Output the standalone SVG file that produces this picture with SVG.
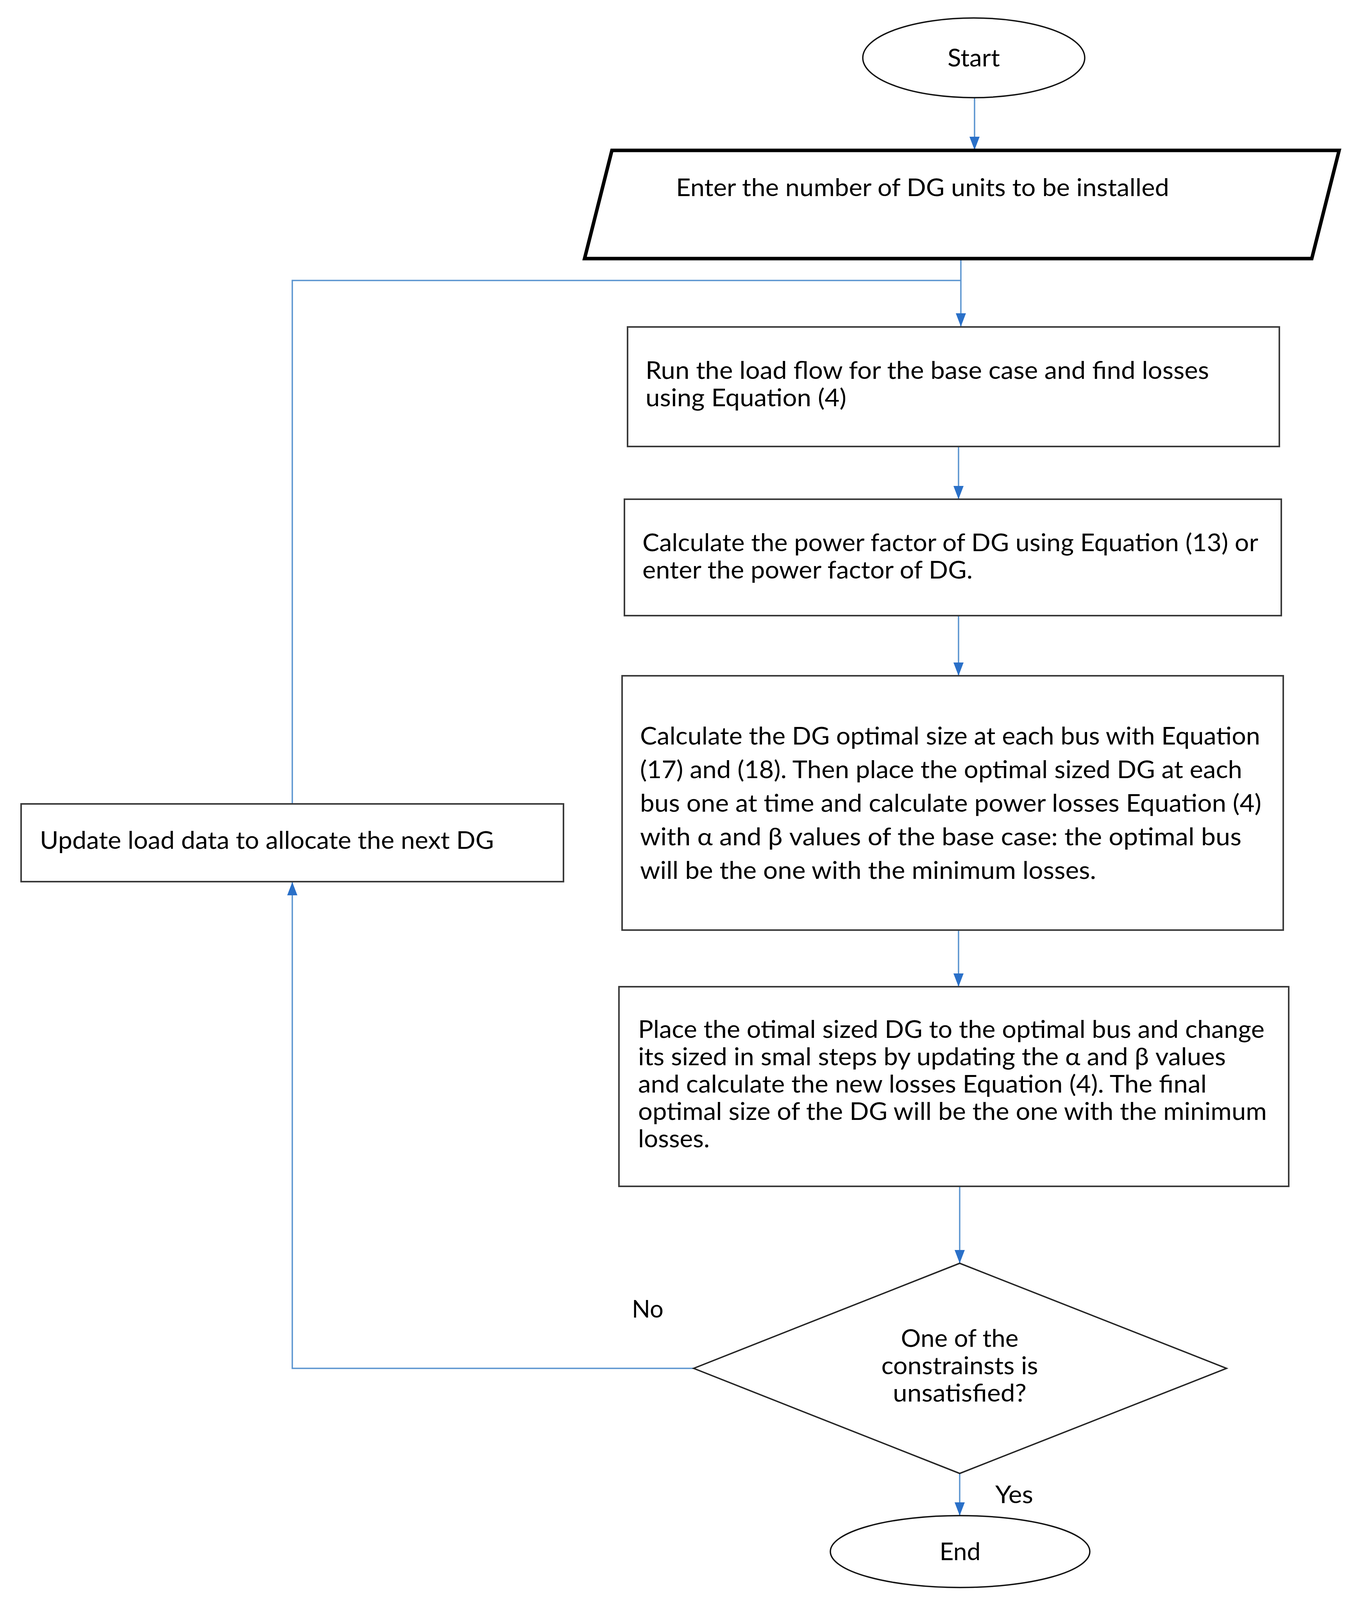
<svg xmlns="http://www.w3.org/2000/svg" width="3483" height="4233" viewBox="0 0 3483 4233">
<style>
.t{font-family:Lato,"Open Sans","Liberation Sans",sans-serif;font-size:62px;fill:#000}
.m{text-anchor:middle}
.box{fill:#fff;stroke:#3a3a3a;stroke-width:4}
.term{fill:#fff;stroke:#111;stroke-width:3.5}
.io{fill:#fff;stroke:#000;stroke-width:9;stroke-linejoin:miter}
.dia{fill:#fff;stroke:#222;stroke-width:3.5}
.c{fill:none;stroke:#5b95d0;stroke-width:3.5}
</style>
<defs>
<marker id="ah" viewBox="0 0 34 26" refX="34" refY="13" markerWidth="34" markerHeight="26" markerUnits="userSpaceOnUse" orient="auto">
<path d="M0,0 L34,13 L0,26 z" fill="#2a70c8"/>
</marker>
</defs>
<rect width="3483" height="4233" fill="#fff"/>
<g id="connectors">
<path class="c" d="M2494,250 L2494,384" marker-end="url(#ah)"/>
<path class="c" d="M2459,662 L2459,836" marker-end="url(#ah)"/>
<path class="c" d="M748,2058 L748,718 L2459,718"/>
<path class="c" d="M2453,1143 L2453,1278" marker-end="url(#ah)"/>
<path class="c" d="M2453,1576 L2453,1730" marker-end="url(#ah)"/>
<path class="c" d="M2453,2381 L2453,2526" marker-end="url(#ah)"/>
<path class="c" d="M2456,3037 L2456,3234" marker-end="url(#ah)"/>
<path class="c" d="M1775,3503 L748,3503 L748,2258" marker-end="url(#ah)"/>
<path class="c" d="M2456,3772 L2456,3880" marker-end="url(#ah)"/>
</g>
<g id="start">
<ellipse class="term" cx="2492" cy="148" rx="284" ry="102"/>
<text class="t m" x="2492" y="170" textLength="134" lengthAdjust="spacingAndGlyphs">Start</text>
</g>
<g id="input">
<polygon class="io" points="1566,385 3427,385 3357,662 1496,662"/>
<text class="t" x="1730" y="502" textLength="1262" lengthAdjust="spacingAndGlyphs">Enter the number of DG units to be installed</text>
</g>
<g id="loadflow">
<rect class="box" x="1606" y="837" width="1668" height="306"/>
<text class="t" x="1652" y="970" textLength="1442" lengthAdjust="spacingAndGlyphs">Run the load flow for the base case and find losses</text>
<text class="t" x="1652" y="1040" textLength="514" lengthAdjust="spacingAndGlyphs">using Equation (4)</text>
</g>
<g id="powerfactor">
<rect class="box" x="1598" y="1278" width="1681" height="298"/>
<text class="t" x="1644" y="1411" textLength="1576" lengthAdjust="spacingAndGlyphs">Calculate the power factor of DG using Equation (13) or</text>
<text class="t" x="1644" y="1481" textLength="845" lengthAdjust="spacingAndGlyphs">enter the power factor of DG.</text>
</g>
<g id="optsize">
<rect class="box" x="1592" y="1730" width="1692" height="651"/>
<text class="t" x="1638" y="1906" textLength="1587" lengthAdjust="spacingAndGlyphs">Calculate the DG optimal size at each bus with Equation</text>
<text class="t" x="1638" y="1992" textLength="1541" lengthAdjust="spacingAndGlyphs">(17) and (18). Then place the optimal sized DG at each</text>
<text class="t" x="1638" y="2078" textLength="1590" lengthAdjust="spacingAndGlyphs">bus one at time and calculate power losses Equation (4)</text>
<text class="t" x="1638" y="2164" textLength="1539" lengthAdjust="spacingAndGlyphs">with α and β values of the base case: the optimal bus</text>
<text class="t" x="1638" y="2250" textLength="1167" lengthAdjust="spacingAndGlyphs">will be the one with the minimum losses.</text>
</g>
<g id="placedg">
<rect class="box" x="1584" y="2526" width="1714" height="511"/>
<text class="t" x="1633" y="2657" textLength="1603" lengthAdjust="spacingAndGlyphs">Place the otimal sized DG to the optimal bus and change</text>
<text class="t" x="1633" y="2727" textLength="1504" lengthAdjust="spacingAndGlyphs">its sized in smal steps by updating the α and β values</text>
<text class="t" x="1633" y="2797" textLength="1455" lengthAdjust="spacingAndGlyphs">and calculate the new losses Equation (4). The final</text>
<text class="t" x="1633" y="2867" textLength="1609" lengthAdjust="spacingAndGlyphs">optimal size of the DG will be the one with the minimum</text>
<text class="t" x="1633" y="2937" textLength="183" lengthAdjust="spacingAndGlyphs">losses.</text>
</g>
<g id="decision">
<polygon class="dia" points="2456,3234 3139,3503 2456,3772 1775,3503"/>
<text class="t m" x="2456" y="3448" textLength="301" lengthAdjust="spacingAndGlyphs">One of the</text>
<text class="t m" x="2456" y="3518" textLength="401" lengthAdjust="spacingAndGlyphs">constrainsts is</text>
<text class="t m" x="2456" y="3588" textLength="342" lengthAdjust="spacingAndGlyphs">unsatisfied?</text>
</g>
<g id="update">
<rect class="box" x="54" y="2058" width="1388" height="199"/>
<text class="t" x="102" y="2173" textLength="1162" lengthAdjust="spacingAndGlyphs">Update load data to allocate the next DG</text>
</g>
<g id="labels">
<text class="t" x="1617" y="3373" textLength="81" lengthAdjust="spacingAndGlyphs">No</text>
<text class="t" x="2547" y="3848" textLength="97" lengthAdjust="spacingAndGlyphs">Yes</text>
</g>
<g id="end">
<ellipse class="term" cx="2457" cy="3972" rx="332" ry="92"/>
<text class="t m" x="2457" y="3994" textLength="105" lengthAdjust="spacingAndGlyphs">End</text>
</g>
</svg>
